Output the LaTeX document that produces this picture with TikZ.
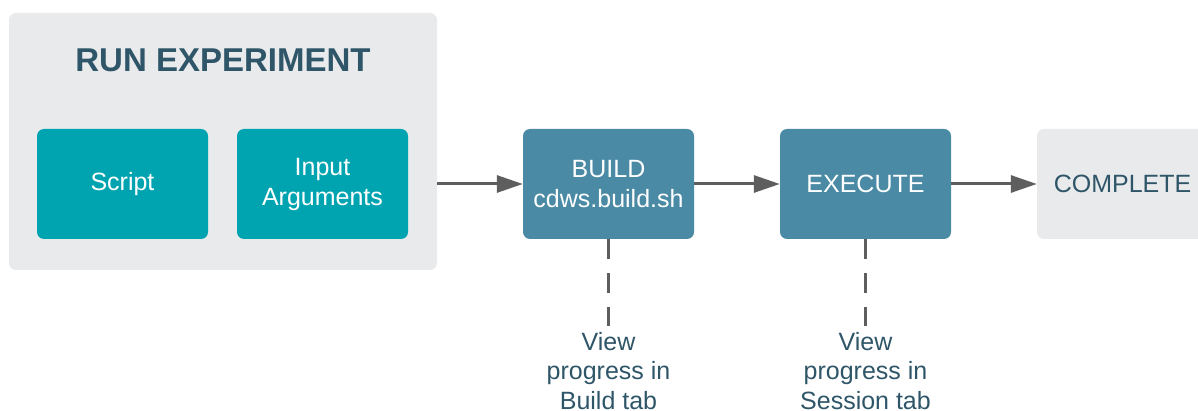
\documentclass[tikz,border=0pt]{standalone}
\usepackage{fontspec}
\setmainfont{Liberation Sans}
\usetikzlibrary{arrows.meta}
\definecolor{outergray}{HTML}{E9EAEC}
\definecolor{tealbox}{HTML}{00A4B0}
\definecolor{bluebox}{HTML}{4A8AA4}
\definecolor{darktext}{HTML}{2F5668}
\definecolor{arrowgray}{HTML}{5E5E5E}
\begin{document}
\begin{tikzpicture}[x=1pt,y=-1pt,
  box/.style={rectangle, rounded corners=7pt, minimum width=171pt, minimum height=110pt, inner sep=0pt, align=center, font=\fontsize{25}{30}\selectfont},
  tealstep/.style={box, fill=tealbox, text=white},
  bluestep/.style={box, fill=bluebox, text=white},
  graystep/.style={box, fill=outergray, text=darktext},
  flow/.style={draw=arrowgray, line width=3pt, -{Triangle[length=26pt,width=17pt]}},
  dashlink/.style={draw=arrowgray, line width=2.3pt, dash pattern=on 20pt off 14pt},
  note/.style={align=center, text=darktext, inner sep=0pt, font=\fontsize{25}{29.5}\selectfont}
]
\useasboundingbox (0,0) rectangle (1198,411);
\clip (0,0) rectangle (1198,411);
\fill[white] (0,0) rectangle (1198,411);

\node[rectangle, rounded corners=7pt, fill=outergray, minimum width=428pt, minimum height=257pt, inner sep=0pt] (run) at (223,141.5) {};
\node[text=darktext, font=\bfseries\fontsize{33}{36}\selectfont, inner sep=0pt] (title) at (223,60) {RUN EXPERIMENT};
\node[tealstep] (script) at (122.5,184) {Script};
\node[tealstep] (input) at (322.5,184) {Input\\Arguments};

\node[bluestep] (build) at (608.5,184) {BUILD\\cdws.build.sh};
\node[bluestep] (execute) at (865.5,184) {EXECUTE};
\node[graystep] (complete) at (1122.5,184) {COMPLETE};

\draw[flow] (run.east |- build.west) -- (build.west);
\draw[flow] (build.east) -- (execute.west);
\draw[flow] (execute.east) -- (complete.west);

\node[note, anchor=north] (buildnote) at (608.5,332) {View\\progress in\\Build tab};
\node[note, anchor=north] (execnote) at (865.5,332) {View\\progress in\\Session tab};

\draw[dashlink] (build.south) -- (build.south |- 0,326);
\draw[dashlink] (execute.south) -- (execute.south |- 0,326);
\end{tikzpicture}
\end{document}
